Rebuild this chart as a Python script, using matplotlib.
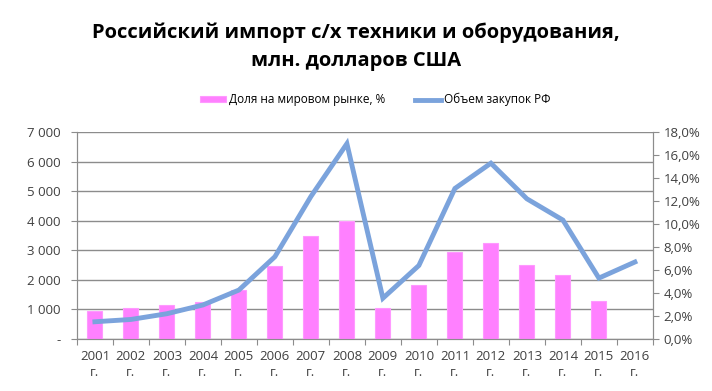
import numpy as np
import matplotlib
matplotlib.use('Agg')
import matplotlib.pyplot as plt
from matplotlib.ticker import FuncFormatter, FixedLocator

plt.rcParams['font.family'] = ['Open Sans', 'DejaVu Sans']

years = ['2001', '2002', '2003', '2004', '2005', '2006', '2007', '2008',
         '2009', '2010', '2011', '2012', '2013', '2014', '2015', '2016']
share_bars = [950, 1040, 1150, 1245, 1660, 2475, 3490, 3980,
              1040, 1830, 2940, 3250, 2510, 2170, 1290, np.nan]
volume_pct = [1.5, 1.7, 2.2, 2.96, 4.26, 7.16, 12.4, 17.0,
              3.55, 6.4, 13.1, 15.3, 12.2, 10.35, 5.3, 6.7]

bar_label = 'Доля на мировом рынке, %'
line_label = 'Объем закупок РФ'
title = 'Российский импорт с/х техники и оборудования,\nмлн. долларов США'

fig = plt.figure(figsize=(7.12, 3.91), dpi=100)
ax = fig.add_axes([0.108, 0.133, 0.809, 0.529])
ax2 = ax.twinx()

x = np.arange(len(years))
ax.bar(x, share_bars, width=0.42, color='#ff80ff', edgecolor='#ff99ff',
       linewidth=0.8, zorder=3, label=bar_label)
ax2.plot(x, volume_pct, color='#7ba3dc', linewidth=3.5, solid_joinstyle='miter',
         zorder=4, label=line_label)

ax.set_xlim(-0.5, len(years) - 0.5)
ax.set_ylim(0, 7000)
ax.set_yticks(np.arange(0, 7001, 1000))
ax.yaxis.set_major_formatter(FuncFormatter(
    lambda v, p: '-' if v == 0 else '{:,.0f}'.format(v).replace(',', ' ')))
ax.grid(axis='y', color='#8c8c8c', linewidth=1.0, zorder=0)
ax.set_axisbelow(True)

ax2.set_ylim(0, 18)
ax2.set_yticks(np.arange(0, 18.1, 2))
ax2.yaxis.set_major_formatter(FuncFormatter(
    lambda v, p: '{:.1f}%'.format(v).replace('.', ',')))

# ticks between categories, labels at centers
ax.xaxis.set_major_locator(FixedLocator(np.arange(-0.5, len(years), 1)))
ax.xaxis.set_minor_locator(FixedLocator(x))
ax.set_xticklabels([])
ax.set_xticklabels([y + '\nг.' for y in years], minor=True, linespacing=1.3)
ax.tick_params(axis='x', which='minor', length=0, pad=8, labelsize=9.5)
ax.tick_params(axis='x', which='major', length=4, color='#8c8c8c')
ax.tick_params(axis='y', length=4, color='#8c8c8c', labelsize=9.5, pad=8)
ax2.tick_params(axis='y', length=4, color='#8c8c8c', labelsize=9.5, labelcolor='#404040')
ax.tick_params(axis='both', which='both', labelcolor='#404040')

for a in (ax, ax2):
    a.spines['top'].set_visible(False)
    a.spines['left'].set_color('#8c8c8c')
    a.spines['right'].set_color('#8c8c8c')
    a.spines['bottom'].set_color('#8c8c8c')

fig.text(0.5, 0.88, title, ha='center', va='center', fontsize=14.5,
         fontweight='bold', linespacing=1.5)

h1, l1 = ax.get_legend_handles_labels()
h2, l2 = ax2.get_legend_handles_labels()
fig.legend(h1 + h2, l1 + l2, loc='center', bbox_to_anchor=(0.527, 0.745),
           ncol=2, frameon=False, fontsize=8.5, handlelength=2.2,
           handleheight=0.35, columnspacing=2.5, handletextpad=0.3)

fig.savefig('out.png', dpi=100)
